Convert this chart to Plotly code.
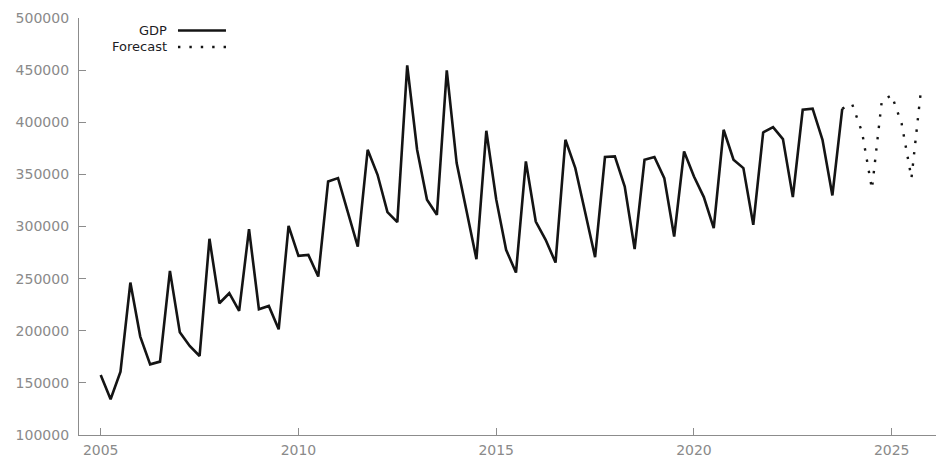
import plotly.graph_objects as go

# Quarterly GDP, 2005Q1 .. 2023Q4
start_year = 2005
gdp = [
    157600, 134300, 160800, 246200,
    194400, 167800, 170400, 257400,
    198600, 185400, 175800, 288200,
    226400, 236000, 219000, 297500,
    220600, 223800, 201400, 300600,
    271800, 272800, 252000, 343200,
    346400, 312800, 280800, 373600,
    349600, 313800, 304200, 454500,
    373600, 325600, 311200, 449700,
    360800, 314800, 268700, 391800,
    326000, 277600, 255800, 362400,
    304800, 287200, 265400, 383200,
    356000, 313400, 270600, 366600,
    367200, 338400, 278300, 364000,
    366600, 346400, 290400, 372000,
    348000, 328200, 298400, 392800,
    364000, 356000, 301600, 390200,
    395300, 383800, 328200, 412000,
    413000, 383200, 329800, 413000,
]

# Forecast, 2024Q1 .. 2025Q4
forecast = [417400, 390600, 336000, 420600, 426000, 398900, 346400, 434400]

x_ticks = [2005, 2010, 2015, 2020, 2025]
y_ticks = [100000, 150000, 200000, 250000, 300000, 350000, 400000, 450000, 500000]

gdp_x = [start_year + i / 4 for i in range(len(gdp))]
last_x = gdp_x[-1]
# forecast path starts from the last observed quarter
fc_x = [last_x] + [last_x + (i + 1) / 4 for i in range(len(forecast))]
fc_y = [gdp[-1]] + forecast

FONT = "DejaVu Sans, Verdana, sans-serif"
TICK_GREY = "#8a8a8a"
AXIS_GREY = "#8c8c8c"
INK = "#141414"

fig = go.Figure()
fig.add_trace(go.Scatter(
    x=gdp_x, y=gdp, mode="lines", name="GDP",
    line=dict(color=INK, width=2.6),
))
fig.add_trace(go.Scatter(
    x=fc_x, y=fc_y, mode="lines", name="Forecast",
    line=dict(color=INK, width=2.4, dash="2.4px,9px"),
))

axis_common = dict(
    showline=True, linecolor=AXIS_GREY, linewidth=1.3,
    ticks="inside", ticklen=7, tickcolor=AXIS_GREY, tickwidth=1.3,
    showgrid=False, zeroline=False,
    tickfont=dict(family=FONT, size=14, color=TICK_GREY),
)

fig.update_layout(
    width=936, height=459,
    margin=dict(l=79, r=0, t=18, b=24),
    paper_bgcolor="white", plot_bgcolor="white",
    showlegend=False,
    xaxis=dict(range=[2004.451, 2026.12], tickvals=x_ticks,
               ticktext=[str(v) for v in x_ticks], ticklabelstandoff=2,
               **axis_common),
    yaxis=dict(range=[100000, 500000], tickvals=y_ticks,
               ticktext=[str(v) for v in y_ticks], ticklabelstandoff=6,
               **axis_common),
)

# key: label on the left, line sample on the right
key_items = [("GDP", 0.970, None, 2.6), ("Forecast", 0.9305, "2.4px,9px", 2.4)]
for label, yk, dash, w in key_items:
    fig.add_annotation(
        text=label, xref="paper", yref="paper", x=0.104, y=yk,
        xanchor="right", yanchor="middle", showarrow=False,
        borderpad=0,
        font=dict(family=FONT, size=13, color="#1c1c24"),
    )
    line = dict(color=INK, width=w)
    if dash:
        line["dash"] = dash
    fig.add_shape(
        type="line", xref="paper", yref="paper",
        x0=0.1155, x1=0.1715, y0=yk, y1=yk, line=line,
    )

fig.write_html("out.html")
